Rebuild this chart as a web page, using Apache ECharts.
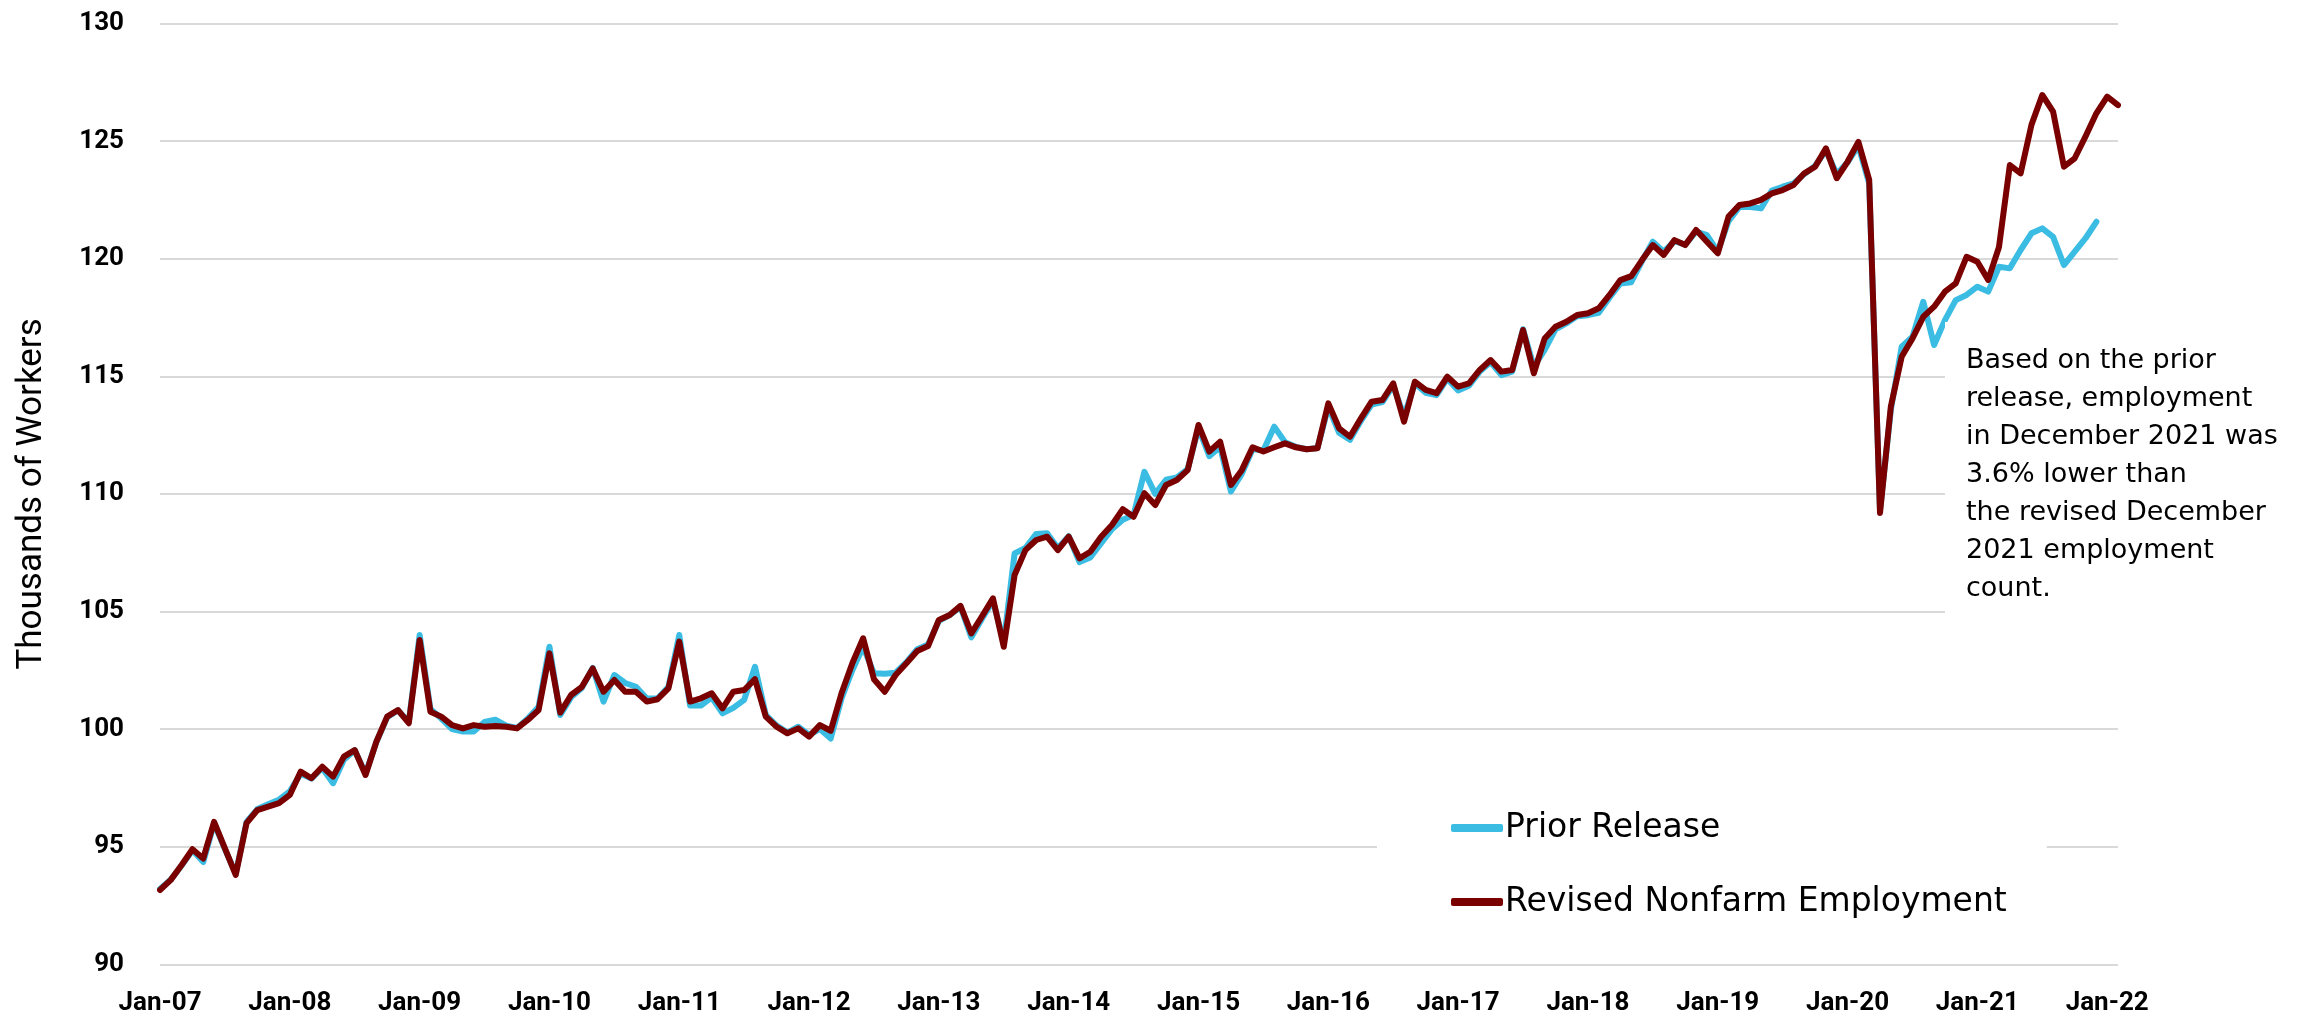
<!DOCTYPE html>
<html>
<head>
<meta charset="utf-8">
<script src="https://cdn.jsdelivr.net/npm/echarts@6/dist/echarts.min.js"></script>
<style>
  html, body { margin: 0; padding: 0; background: #fff; }
  #chart { width: 2310px; height: 1023px; }
</style>
</head>
<body>
<div id="chart"></div>
<script>
// monthly values, Jan-07 onward (thousands of workers)
const revised = [
  93.16, 93.59, 94.22, 94.89, 94.5, 96.06, 94.93, 93.8, 96.0, 96.56, 96.7, 96.85,
  97.2, 98.19, 97.91, 98.4, 97.98, 98.83, 99.11, 98.05, 99.46, 100.53, 100.81, 100.25,
  103.79, 100.74, 100.53, 100.17, 100.03, 100.17, 100.1, 100.13, 100.1, 100.03, 100.39, 100.81,
  103.22, 100.7, 101.45, 101.8, 102.58, 101.59, 102.09, 101.59, 101.59, 101.17, 101.27, 101.73,
  103.72, 101.17, 101.31, 101.52, 100.88, 101.59, 101.66, 102.12, 100.53, 100.1, 99.82, 100.03,
  99.68, 100.17, 99.93, 101.52, 102.8, 103.86, 102.12, 101.59, 102.3, 102.8, 103.32, 103.53,
  104.64, 104.85, 105.24, 104.07, 104.8, 105.56, 103.5, 106.55, 107.61, 108.04, 108.18, 107.61,
  108.18, 107.26, 107.54, 108.18, 108.68, 109.35, 109.03, 110.03, 109.53, 110.38, 110.59, 111.01,
  112.93, 111.8, 112.22, 110.38, 111.01, 111.98, 111.8, 111.98, 112.15, 111.98, 111.9, 111.94,
  113.85, 112.79, 112.43, 113.2, 113.92, 113.99, 114.7, 113.07, 114.77, 114.42, 114.28, 114.98,
  114.56, 114.7, 115.27, 115.69, 115.2, 115.27, 116.97, 115.13, 116.61, 117.11, 117.32, 117.61,
  117.68, 117.89, 118.46, 119.09, 119.26, 119.94, 120.58, 120.16, 120.79, 120.58, 121.22, 120.72,
  120.23, 121.79, 122.28, 122.35, 122.5, 122.78, 122.92, 123.13, 123.63, 123.91, 124.69, 123.42,
  124.12, 124.97, 123.35, 109.19, 113.71, 115.83, 116.61, 117.53, 117.96, 118.6, 118.95, 120.08,
  119.87, 119.1, 120.5, 123.98, 123.63, 125.69, 126.96, 126.25, 123.91, 124.27, 125.2, 126.18,
  126.89, 126.53
];
const prior = [
  93.2, 93.6, 94.2, 94.85, 94.35, 96.0, 94.9, 93.85, 96.05, 96.6, 96.8, 97.0,
  97.35, 98.1, 97.9, 98.35, 97.7, 98.7, 99.1, 98.1, 99.45, 100.5, 100.8, 100.3,
  104.0, 100.85, 100.45, 100.0, 99.9, 99.9, 100.3, 100.4, 100.15, 100.05, 100.45, 100.95,
  103.5, 100.6, 101.35, 101.75, 102.6, 101.17, 102.3, 101.96, 101.8, 101.3, 101.3, 101.8,
  104.0, 101.0, 101.0, 101.35, 100.67, 100.9, 101.24, 102.65, 100.6, 100.15, 99.85, 100.1,
  99.75, 100.0, 99.6, 101.3, 102.5, 103.5, 102.37, 102.35, 102.4, 102.85, 103.4, 103.6,
  104.6, 104.85, 105.2, 103.9, 104.7, 105.45, 103.7, 107.47, 107.7, 108.3, 108.33, 107.7,
  108.2, 107.1, 107.3, 107.9, 108.5, 108.9, 109.1, 110.94, 110.0, 110.6, 110.7, 111.05,
  112.8, 111.6, 112.0, 110.1, 110.85, 111.9, 111.85, 112.86, 112.2, 112.0, 111.9, 111.95,
  113.7, 112.6, 112.3, 113.1, 113.8, 113.9, 114.6, 113.3, 114.7, 114.3, 114.2, 114.9,
  114.4, 114.6, 115.2, 115.6, 115.05, 115.2, 117.0, 115.4, 116.12, 117.0, 117.25, 117.55,
  117.6, 117.7, 118.35, 118.95, 119.0, 119.9, 120.72, 120.3, 120.75, 120.6, 121.15, 121.0,
  120.3, 121.6, 122.2, 122.2, 122.14, 122.9, 123.06, 123.2, 123.6, 123.95, 124.6, 123.6,
  124.1, 124.8, 123.2, 109.3, 113.57, 116.26, 116.68, 118.17, 116.33, 117.39, 118.24, 118.46,
  118.81, 118.6, 119.66, 119.59, 120.37, 121.08, 121.29, 120.93, 119.73, 120.3, 120.87, 121.57
];
const monthNames = ['Jan','Feb','Mar','Apr','May','Jun','Jul','Aug','Sep','Oct','Nov','Dec'];
const yTicks = [90, 95, 100, 105, 110, 115, 120, 125, 130];
const note = [
  'Based on the prior',
  'release, employment',
  'in December 2021 was',
  '3.6% lower than',
  'the revised December',
  '2021 employment',
  'count.'
];

// month labels like "Jan-07"
const months = revised.map((v, i) => {
  const y = 7 + Math.floor(i / 12);
  return monthNames[i % 12] + '-' + String(y).padStart(2, '0');
});

const font = '"DejaVu Sans", sans-serif';
const tickFont = 'Roboto, sans-serif';
const chart = echarts.init(document.getElementById('chart'));

const option = {
  animation: false,
  backgroundColor: '#fff',
  grid: {
    left: 160,
    right: 192,
    top: 23.5,
    bottom: 58.7
  },
  legend: {
    orient: 'vertical',
    left: 1377,
    top: 787,
    padding: [20, 40, 20, 74],
    backgroundColor: '#fff',
    icon: 'roundRect',
    itemWidth: 52,
    itemHeight: 8,
    itemGap: 32,
    textStyle: {
      fontFamily: font,
      fontSize: 33,
      color: '#000',
      lineHeight: 42,
      padding: [0, 0, 0, -3]
    },
    data: ['Prior Release', 'Revised Nonfarm Employment']
  },
  xAxis: {
    type: 'category',
    boundaryGap: false,
    data: months,
    axisLine: { show: false },
    axisTick: { show: false },
    splitLine: { show: false },
    axisLabel: {
      interval: (idx) => idx % 12 === 0,
      margin: 26,
      fontFamily: tickFont,
      fontWeight: 'bold',
      fontSize: 26,
      color: '#000'
    }
  },
  yAxis: {
    type: 'value',
    min: yTicks[0],
    max: yTicks[yTicks.length - 1],
    interval: 5,
    name: 'Thousands of Workers',
    nameLocation: 'middle',
    nameRotate: 90,
    nameGap: 110,
    nameTextStyle: {
      fontFamily: 'Roboto, sans-serif',
      fontSize: 35,
      color: '#000'
    },
    axisLine: { show: false },
    axisTick: { show: false },
    axisLabel: {
      margin: 36,
      fontFamily: tickFont,
      fontWeight: 'bold',
      fontSize: 26,
      color: '#000'
    },
    splitLine: {
      lineStyle: { color: '#d9d9d9', width: 2 }
    }
  },
  graphic: [
    {
      type: 'text',
      left: 1945,
      top: 322,
      z: 10,
      style: {
        text: note.join('\n'),
        font: '27px ' + font,
        lineHeight: 38,
        fill: '#000',
        backgroundColor: '#fff',
        padding: [20, 20, 20, 21]
      }
    }
  ],
  series: [
    {
      name: 'Prior Release',
      type: 'line',
      data: prior,
      showSymbol: false,
      symbol: 'none',
      color: '#3bbce3',
      lineStyle: { width: 6, color: '#3bbce3', cap: 'round', join: 'round' }
    },
    {
      name: 'Revised Nonfarm Employment',
      type: 'line',
      data: revised,
      showSymbol: false,
      symbol: 'none',
      color: '#7a0000',
      lineStyle: { width: 6, color: '#7a0000', cap: 'round', join: 'round' }
    }
  ]
};

chart.setOption(option);
</script>
</body>
</html>
